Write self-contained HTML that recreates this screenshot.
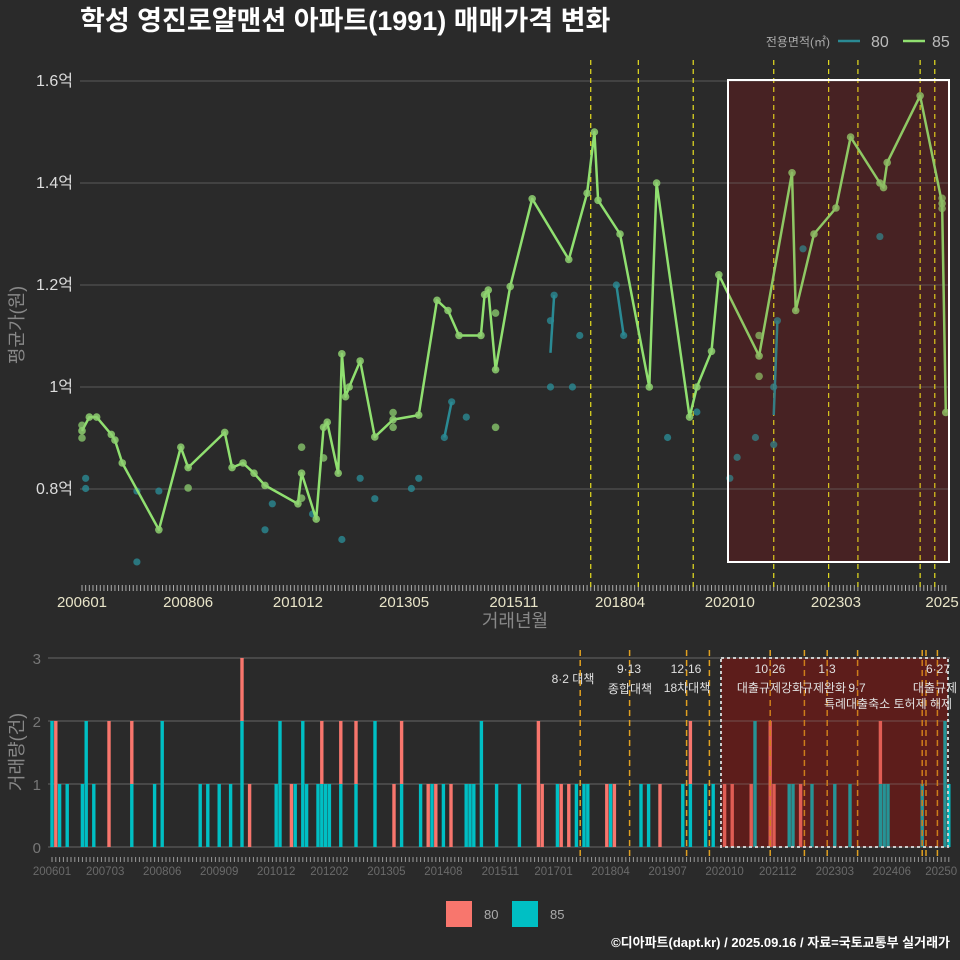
<!DOCTYPE html>
<html><head><meta charset="utf-8">
<style>
html,body{margin:0;padding:0;background:#2a2a2a;}
svg{display:block;font-family:"Liberation Sans","Noto Sans CJK KR",sans-serif;}
</style></head>
<body>
<svg id="chart" width="960" height="960" viewBox="0 0 960 960">
<rect x="0" y="0" width="960" height="960" fill="#2a2a2a"/>
<text x="80" y="30" fill="#ffffff" font-size="27" font-weight="bold">학성 영진로얄맨션 아파트(1991) 매매가격 변화</text>
<g id="legendTop">
<text x="830" y="46" fill="#aaaaaa" font-size="12" text-anchor="end">전용면적(㎡)</text>
<line x1="838" y1="41" x2="860" y2="41" stroke="#2a8a94" stroke-width="2.5"/>
<text x="871" y="47" fill="#bbbbbb" font-size="16">80</text>
<line x1="903" y1="41" x2="925" y2="41" stroke="#90e070" stroke-width="2.5"/>
<text x="932" y="47" fill="#bbbbbb" font-size="16">85</text>
</g>
<g id="topChart"></g>
<g id="bottomChart"></g>
<g>
<rect x="446" y="901" width="26" height="26" fill="#f8766d"/>
<text x="484" y="919" fill="#aaaaaa" font-size="13">80</text>
<rect x="512" y="901" width="26" height="26" fill="#00bfc4"/>
<text x="550" y="919" fill="#aaaaaa" font-size="13">85</text>
</g>
<text x="950" y="947" fill="#ffffff" font-size="13" font-weight="bold" text-anchor="end">©디아파트(dapt.kr) / 2025.09.16 / 자료=국토교통부 실거래가</text>
</svg>
<script>
// ---- data ----
const months85 = [0,2,4,8,9,11,21,27,29,39,41,44,47,50,59,60,64,66,67,70,71,72,73,76,80,85,92,97,100,103,109,110,111,113,117,123,133,138,140,141,147,155,157,166,168,172,174,185,194,195,200,206,210,218,219,220,229,235,236];
const values85 = [0.914,0.941,0.941,0.907,0.896,0.851,0.720,0.882,0.842,0.911,0.842,0.851,0.831,0.807,0.771,0.831,0.741,0.921,0.931,0.831,1.065,0.981,1.0,1.051,0.902,0.936,0.945,1.170,1.150,1.101,1.101,1.181,1.190,1.034,1.197,1.369,1.250,1.380,1.500,1.366,1.300,1.0,1.400,0.941,1.0,1.070,1.220,1.061,1.420,1.150,1.300,1.351,1.490,1.400,1.391,1.440,1.571,1.36,0.95];
const extraMonths85 = [0,0,29,60,60,66,85,85,113,113,185,185,235,235];
const extraValues85 = [0.925,0.90,0.802,0.882,0.782,0.861,0.95,0.921,1.145,0.921,1.101,1.021,1.37,1.35];
const months80 = [1,1,15,15,21,50,52,63,71,76,80,90,92,99,101,105,128,128,129,134,136,146,148,160,168,177,179,184,189,189,190,197,218];
const values80 = [0.821,0.801,0.796,0.657,0.796,0.720,0.771,0.751,0.701,0.821,0.781,0.801,0.821,0.901,0.971,0.941,1.13,1.0,1.18,1.0,1.101,1.2,1.101,0.901,0.951,0.821,0.862,0.901,0.887,1.0,1.130,1.271,1.295];
const segStartMonths80 = [99,128,146,189];
const segStartValues80 = [0.901,1.067,1.2,0.945];
const segEndMonths80 = [101,129,148,190];
const segEndValues80 = [0.971,1.18,1.101,1.13];
const yTicks = [0.8,1.0,1.2,1.4,1.6];
const yTickLabels = ["0.8억","1억","1.2억","1.4억","1.6억"];
const xTickMonths = [0,29,59,88,118,147,177,206,235];
const xTickLabels = ["200601","200806","201012","201305","201511","201804","202010","202303","2025"];
const eventMonths = [139,152,167,173,189,198,204,212,229,230,233];
const eventOnTop = [1,1,1,0,1,0,1,1,1,0,1];
const barMonths = [0,1,2,4,8,9,11,15,21,27,29,39,41,44,47,50,52,59,60,63,64,66,67,70,71,72,73,76,80,85,90,92,97,99,100,101,103,105,109,110,111,113,117,123,128,129,133,134,136,138,140,141,146,147,148,155,157,160,166,168,172,174,177,179,184,185,189,190,194,195,197,200,206,210,218,219,220,229,235,236];
const count85 = [2,0,1,1,1,2,1,0,1,1,2,1,1,1,1,2,0,1,2,0,1,2,1,1,1,1,1,1,1,2,0,1,1,0,1,0,1,0,1,1,1,2,1,1,0,0,1,0,0,1,1,1,0,1,0,1,1,0,1,1,1,1,0,0,0,2,0,0,1,1,0,1,1,1,1,1,1,1,2,1];
const count80 = [0,2,0,0,0,0,0,2,1,0,0,0,0,0,0,1,1,0,0,1,0,0,0,0,1,0,0,1,1,0,1,1,0,1,0,1,0,1,0,0,0,0,0,0,2,1,0,1,1,0,0,0,1,0,1,0,0,1,0,1,0,0,1,1,1,0,2,1,0,0,1,0,0,0,1,0,0,0,0,0];
const volTicks = [0,1,2,3];
const volXTickMonths = [0,14,29,44,59,73,88,103,118,132,147,162,177,191,206,221,234];
const volXTickLabels = ["200601","200703","200806","200909","201012","201202","201305","201408","201511","201701","201804","201907","202010","202112","202303","202406","20250"];

// ---- scales ----
const NS="http://www.w3.org/2000/svg";
function xT(m){return 82+m*3.66;}
function yT(v){return 387-(v-1)*510;}
function xB(m){return 52+m*3.8;}
function yB(c){return 847-c*63;}
function mk(tag,attrs,parent){const e=document.createElementNS(NS,tag);for(const k in attrs)e.setAttribute(k,attrs[k]);parent.appendChild(e);return e;}

const topG=document.getElementById('topChart');
const botG=document.getElementById('bottomChart');

// base fill of highlight (behind data)
const hb=mk('rect',{x:728,y:80,width:221,height:482,fill:'#3e2326'},topG);



yTicks.forEach((v,i)=>{
  const g=mk('line',{x1:80,x2:950,y1:yT(v),y2:yT(v),stroke:'#5a5a5a','stroke-width':1},topG);
  
  
  const t=mk('text',{x:73,y:yT(v)+5,fill:'#dddddd','font-size':16,'text-anchor':'end'},topG);
  t.textContent=yTickLabels[i];
  
  
});
for(let m=0;m<=236;m++){
  const tk=mk('line',{x1:xT(m),x2:xT(m),y1:585,y2:591,stroke:'#aaaaaa','stroke-width':1},topG);
  
  
}
xTickMonths.forEach((m,i)=>{
  const t=mk('text',{x:xT(m),y:607,fill:'#e8e4c8','font-size':15,'text-anchor':'middle'},topG);
  t.textContent=xTickLabels[i];
  
  
});
const yt=mk('text',{x:0,y:0,fill:'#888888','font-size':18,'text-anchor':'middle',transform:'translate(23,325) rotate(-90)'},topG);
yt.textContent='평균가(원)';


const xt=mk('text',{x:515,y:627,fill:'#888888','font-size':18,'text-anchor':'middle'},topG);
xt.textContent='거래년월';



eventMonths.forEach((m,i)=>{
  if(!eventOnTop[i])return;
  const l=mk('line',{x1:xT(m),x2:xT(m),y1:60,y2:590,stroke:'#e8e020','stroke-width':1.2,'stroke-dasharray':'5,4'},topG);
  
  
});

segStartMonths80.forEach((m,i)=>{
  const l=mk('line',{x1:xT(m),y1:yT(segStartValues80[i]),x2:xT(segEndMonths80[i]),y2:yT(segEndValues80[i]),stroke:'#2a8a94','stroke-width':2.5},topG);
  
  
});
months80.forEach((m,i)=>{
  const c=mk('circle',{cx:xT(m),cy:yT(values80[i]),r:3.6,fill:'#2a8a94','fill-opacity':0.8},topG);
  
  
});
let pts=months85.map((m,i)=>xT(m).toFixed(1)+','+yT(values85[i]).toFixed(1)).join(' ');
const pl=mk('polyline',{points:pts,fill:'none',stroke:'#90e070','stroke-width':2.5,'stroke-linejoin':'round'},topG);


months85.forEach((m,i)=>{
  const c=mk('circle',{cx:xT(m),cy:yT(values85[i]),r:3.8,fill:'#8ed070','fill-opacity':0.85},topG);
  
  
});
extraMonths85.forEach((m,i)=>{
  const c=mk('circle',{cx:xT(m),cy:yT(extraValues85[i]),r:3.8,fill:'#8ed070','fill-opacity':0.75},topG);
  
  
});
const hr=mk('rect',{x:728,y:80,width:221,height:482,fill:'rgb(140,30,20)','fill-opacity':0.12,stroke:'#ffffff','stroke-width':2},topG);



// ---- bottom chart ----
const bb=mk('rect',{x:721,y:658,width:227,height:189,fill:'#4a2020'},botG);


volTicks.forEach(v=>{
  const g=mk('line',{x1:48,x2:950,y1:yB(v),y2:yB(v),stroke:'#666666','stroke-width':1},botG);
  
  
  const t=mk('text',{x:41,y:yB(v)+6,fill:'#777777','font-size':15,'text-anchor':'end'},botG);
  t.textContent=String(v);
  
  
});
barMonths.forEach((m,i)=>{
  const x=xB(m)-1.7;
  if(count85[i]>0){
    const b=mk('rect',{x:x,y:yB(count85[i]),width:3.4,height:count85[i]*63,fill:'#00bfc4'},botG);
    
    
  }
  if(count80[i]>0){
    const b=mk('rect',{x:x,y:yB(count85[i]+count80[i]),width:3.4,height:count80[i]*63,fill:'#f8766d'},botG);
    
    
  }
});
for(let m=0;m<=236;m++){
  const tk=mk('line',{x1:xB(m),x2:xB(m),y1:857,y2:862,stroke:'#999999','stroke-width':1},botG);
  
  
}
volXTickMonths.forEach((m,i)=>{
  const t=mk('text',{x:xB(m),y:875,fill:'#6a6a6a','font-size':11.5,'text-anchor':'middle'},botG);
  t.textContent=volXTickLabels[i];
  
  
});
eventMonths.forEach(m=>{
  const l=mk('line',{x1:xB(m),x2:xB(m),y1:650,y2:858,stroke:'#e0a020','stroke-width':1.5,'stroke-dasharray':'6,4'},botG);
  
  
});
const br=mk('rect',{x:721,y:658,width:227,height:189,fill:'rgb(150,20,10)','fill-opacity':0.25,stroke:'#cccccc','stroke-width':2,'stroke-dasharray':'3,3'},botG);


const vt=mk('text',{x:0,y:0,fill:'#888888','font-size':18,'text-anchor':'middle',transform:'translate(23,752) rotate(-90)'},botG);
vt.textContent='거래량(건)';



const notes=[["8·2 대책",573,683],["9·13",629,673],["종합대책",630,693],["12·16",686,673],["18차대책",687,692],["10·26",770,673],["대출규제강화",770,692],["1·3",827,673],["규제완화",824,692],["9·7",857,692],["특례대출축소 토허제 해제",888,708],["6·27",938,673],["대출규제",935,692]];
notes.forEach(n=>{
  const t=mk('text',{x:n[1],y:n[2],fill:'#e0e0e0','font-size':12,'text-anchor':'middle'},botG);
  t.textContent=n[0];
  
  
});
</script>
</body></html>
